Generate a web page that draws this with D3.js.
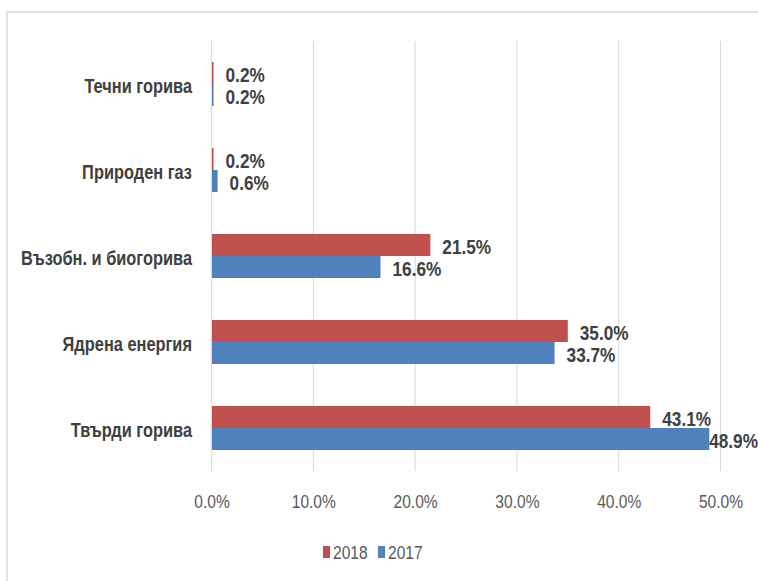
<!DOCTYPE html>
<html><head><meta charset="utf-8">
<script src="https://cdn.jsdelivr.net/npm/d3@7"></script>
<style>
html,body{margin:0;padding:0;background:#fff;}
svg{display:block;}
text{font-family:"Liberation Sans",Arial,sans-serif;}
</style></head>
<body>
<script>
const categories = ["Течни горива","Природен газ","Възобн. и биогорива","Ядрена енергия","Твърди горива"];
const seriesNames = ["2018","2017"];
const values2018 = [0.2, 0.2, 21.5, 35.0, 43.1];
const values2017 = [0.2, 0.6, 16.6, 33.7, 48.9];
const tickValues = [0,10,20,30,40,50];
const colors = ["#c0504d","#4f81bd"];

const W = 758, H = 581;
const SX = 0.82; // horizontal condensing to mimic a narrow font
const svg = d3.select("body").append("svg").attr("width",W).attr("height",H);

// chart frame
svg.append("rect").attr("x",7).attr("y",12).attr("width",W+20).attr("height",H+20)
  .attr("fill","none").attr("stroke","#d9d9d9").attr("stroke-width",1.5);

const x = d3.scaleLinear().domain([0,50]).range([211.5,720.5]);
const y = d3.scaleBand().domain(categories).range([41,471]).paddingInner(0).paddingOuter(0);
const inner = d3.scaleBand().domain(seriesNames).range([0,y.bandwidth()]).paddingInner(0).paddingOuter(0.955);

// gridlines
svg.append("g").selectAll("line").data(tickValues).join("line")
  .attr("x1",d=>x(d)).attr("x2",d=>x(d)).attr("y1",41).attr("y2",471)
  .attr("stroke","#d9d9d9").attr("stroke-width",1);

// x axis labels
const xAxis = d3.axisBottom(x).tickValues(tickValues).tickSize(0).tickFormat(d=>d3.format(".1f")(d)+"%");
const gx = svg.append("g").attr("transform","translate(0,471)").call(xAxis);
gx.select(".domain").remove();
gx.selectAll("text").attr("fill","#595959").attr("font-size",19).attr("dy",0).attr("y",37)
  .attr("font-family",'"Liberation Sans",Arial,sans-serif')
  .attr("transform",`scale(${SX},1)`);

// y axis labels
const yAxis = d3.axisLeft(y).tickSize(0).tickPadding(0);
const gy = svg.append("g").attr("transform","translate(192,0)").call(yAxis);
gy.select(".domain").remove();
gy.selectAll("text").attr("fill","#404040").attr("font-size",20).attr("font-weight","bold")
  .attr("dy","0.35em").attr("x",0).attr("y",2)
  .attr("font-family",'"Liberation Sans",Arial,sans-serif')
  .attr("transform",`scale(${SX},1)`);

const data = [];
categories.forEach((c,i)=>{
  data.push({cat:c, s:"2018", v:values2018[i], color:colors[0]});
  data.push({cat:c, s:"2017", v:values2017[i], color:colors[1]});
});

svg.append("g").selectAll("rect").data(data).join("rect")
  .attr("x",x(0)).attr("y",d=>y(d.cat)+inner(d.s))
  .attr("width",d=>x(d.v)-x(0)).attr("height",inner.bandwidth())
  .attr("fill",d=>d.color);

// axis line at 0
svg.append("line").attr("x1",x(0)).attr("x2",x(0)).attr("y1",41).attr("y2",471)
  .attr("stroke","#d9d9d9").attr("stroke-width",1);

const labels = svg.append("g").selectAll("text").data(data).join("text")
  .attr("dy","0.35em")
  .attr("fill","#404040").attr("font-size",21).attr("font-weight","bold")
  .text(d=>d3.format(".1f")(d.v)+"%");
labels.each(function(d){
  const w = this.getComputedTextLength()*SX;
  const lx = Math.min(x(d.v)+12, W - w);
  const ly = y(d.cat)+inner(d.s)+inner.bandwidth()/2+2;
  d3.select(this).attr("transform",`translate(${lx},${ly}) scale(${SX},1)`);
});

// legend
const leg = svg.append("g");
const legItems = [{n:"2018",c:colors[0],x:323},{n:"2017",c:colors[1],x:378}];
legItems.forEach(it=>{
  leg.append("rect").attr("x",it.x).attr("y",546).attr("width",7).attr("height",12).attr("fill",it.c);
  leg.append("text").attr("transform",`translate(${it.x+10},552) scale(${SX},1)`).attr("dy","0.36em")
    .attr("fill","#595959").attr("font-size",19).text(it.n);
});
</script>
</body></html>
